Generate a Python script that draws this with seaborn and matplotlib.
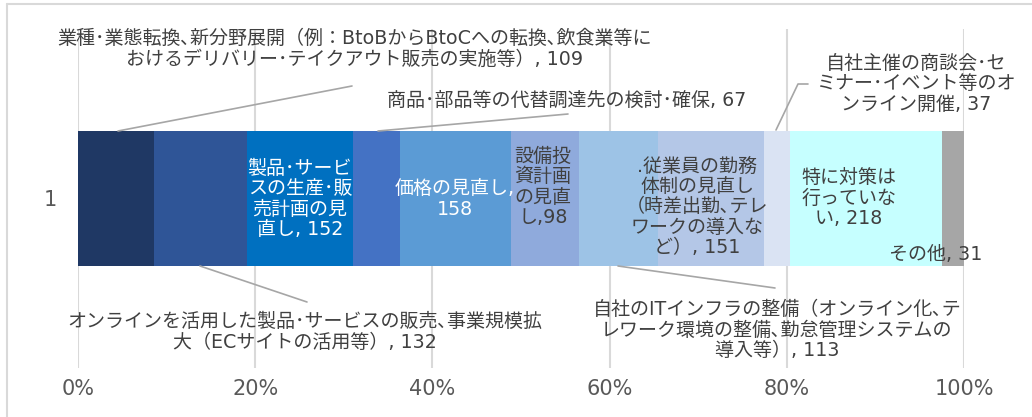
import numpy as np
import pandas as pd
import matplotlib
matplotlib.use("Agg")
import matplotlib.pyplot as plt
from matplotlib.lines import Line2D
import seaborn as sns

# Measures taken (number of companies), in stacking order
measures = [
    "業種･業態転換､新分野展開（例：BtoBからBtoCへの転換､飲食業等に\nおけるデリバリー･テイクアウト販売の実施等）",
    "オンラインを活用した製品･サービスの販売､事業規模拡\n大（ECサイトの活用等）",
    "製品･サービ\nスの生産･販\n売計画の見\n直し",
    "商品･部品等の代替調達先の検討･確保",
    "価格の見直し,",
    "設備投\n資計画\nの見直\nし",
    "自社のITインフラの整備（オンライン化､テ\nレワーク環境の整備､勤怠管理システムの\n導入等）",
    ".従業員の勤務\n体制の見直し\n（時差出勤､テレ\nワークの導入な\nど）",
    "自社主催の商談会･セ\nミナー･イベント等のオ\nンライン開催",
    "特に対策は\n行っていな\nい",
    "その他",
]
counts = [109, 132, 152, 67, 158, 98, 113, 151, 37, 218, 31]
colors = ["#1F3864", "#2F5597", "#0070C0", "#4472C4", "#5B9BD5", "#8FAADC",
          "#9DC3E6", "#B4C7E7", "#DAE3F3", "#C6FFFF", "#A6A6A6"]
row_label = ["1"]
x_ticks = [0, 20, 40, 60, 80, 100]
x_tick_labels = ["0%", "20%", "40%", "60%", "80%", "100%"]

sns.set_theme(style="white")
FAMILY = ["DejaVu Sans", "Noto Sans CJK JP"]
plt.rcParams["font.family"] = FAMILY

W, H = 1032, 417
fig = plt.figure(figsize=(W / 100, H / 100), dpi=100)
ax = fig.add_axes([78 / W, 1 - 368 / H, (964 - 78) / W, (368 - 29) / H])

total = sum(counts)
shares = np.array(counts) / total * 100
cum_end = np.cumsum(shares)
cum_start = cum_end - shares

# Stacked 100% bar: overlay cumulative bars from the longest to the shortest
for i in range(len(counts) - 1, -1, -1):
    df = pd.DataFrame({"row": row_label, "pct": [cum_end[i]]})
    sns.barplot(data=df, x="pct", y="row", orient="h", color=colors[i],
                saturation=1, width=0.4, linewidth=0, ax=ax, zorder=3)

ax.set_xlim(0, 100)
ax.set_xticks(x_ticks)
ax.set_xticklabels(x_tick_labels)
ax.set_xlabel("")
ax.set_ylabel("")
ax.grid(axis="x", color="#D9D9D9", linewidth=1.5, zorder=0)
ax.set_axisbelow(True)
for s in ax.spines.values():
    s.set_visible(False)
ax.tick_params(axis="x", length=0, pad=8, labelsize=15, labelcolor="#595959")
ax.tick_params(axis="y", length=0, pad=15, labelsize=15, labelcolor="#595959")

TXT = "#404040"
FS = 13.7


def px(xp, yp):
    """Pixel position in the figure -> axes fraction."""
    return (xp - 78) / 886, 1 - (yp - 29) / 339


def label(i, xp, yp, color=TXT, text=None):
    if text is None:
        text = f"{measures[i]}, {counts[i]}"
    ax.text(*px(xp, yp), text, transform=ax.transAxes, ha="center", va="center",
            fontsize=FS, color=color, linespacing=1.1, zorder=5, clip_on=False)


def leader(points):
    xs, ys = zip(*[px(a, b) for a, b in points])
    ax.add_line(Line2D(xs, ys, transform=ax.transAxes, color="#A6A6A6",
                       linewidth=1.2, zorder=4, clip_on=False))


def seg_px(i, shift=0):
    mid = (cum_start[i] + cum_end[i]) / 2
    return 78 + mid / 100 * 886 + shift


# Labels outside the bar, with leader lines
label(0, 355, 49)
leader([(118, 131), (352, 86)])
label(1, 305, 332)
leader([(200, 266), (307, 302)])
label(3, 567, 100)
leader([(378, 131), (568, 114)])
label(6, 777, 330)
leader([(618, 266), (775, 288)])
label(8, 916, 84)
leader([(776, 130), (798, 84), (808, 84)])

# Labels inside the bar
label(2, seg_px(2), 199, color="white")
label(4, seg_px(4), 199, color="white", text=f"{measures[4]}\n{counts[4]}")
label(5, seg_px(5, -2), 187, text=f"{measures[5]},{counts[5]}")
label(7, seg_px(7, -14), 207)
label(9, seg_px(9, -17), 198)
label(10, 936, 255)

# Chart frame (top and left edges)
fig.add_artist(Line2D([7 / W, 1], [1 - 4 / H, 1 - 4 / H], color="#D9D9D9", linewidth=1.5))
fig.add_artist(Line2D([7 / W, 7 / W], [0, 1 - 4 / H], color="#D9D9D9", linewidth=1.5))

fig.savefig("out.png", dpi=100)
